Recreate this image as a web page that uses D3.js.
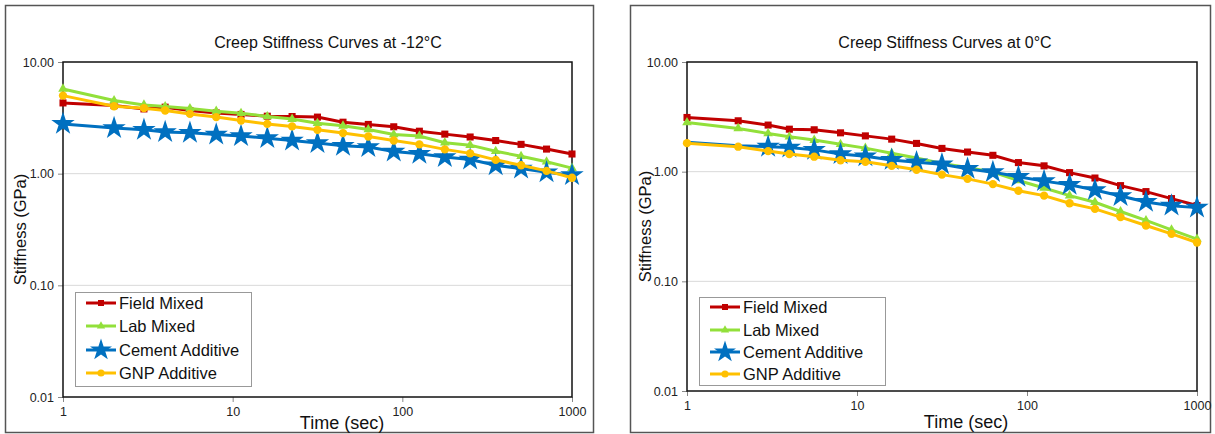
<!DOCTYPE html>
<html>
<head>
<meta charset="utf-8">
<script src="https://cdn.jsdelivr.net/npm/d3@7"></script>
<style>
	body { margin: 0; background: #fff; }
	svg { font-family: "Liberation Sans", Arial, sans-serif; }
</style>
</head>
<body>
<svg id="chart" width="1215" height="434"></svg>
<script>
// time steps (sec)
const times = [1, 2, 3, 4, 5.6, 8, 11.2, 16, 22.4, 31.6, 44.7, 63, 89, 126, 178, 251, 355, 501, 708, 1000];
const seriesNames = ["Field Mixed", "Lab Mixed", "Cement Additive", "GNP Additive"];
const yTickValues = [0.01, 0.1, 1, 10];
const xTickValues = [1, 10, 100, 1000];

// -12°C stiffness (GPa)
const fieldMixedM12 = [4.30, 4.07, 3.80, 3.94, 3.68, 3.50, 3.39, 3.27, 3.25, 3.21, 2.89, 2.76, 2.63, 2.40, 2.26, 2.13, 1.98, 1.83, 1.66, 1.50];
const labMixedM12 = [5.74, 4.52, 4.13, 3.99, 3.83, 3.63, 3.48, 3.25, 3.08, 2.83, 2.68, 2.49, 2.24, 2.17, 1.89, 1.80, 1.59, 1.43, 1.28, 1.12];
const cementM12 = [2.79, 2.56, 2.47, 2.36, 2.32, 2.24, 2.17, 2.08, 1.98, 1.88, 1.78, 1.73, 1.58, 1.51, 1.41, 1.34, 1.19, 1.11, 1.03, 0.97];
const gnpM12 = [5.00, 4.02, 3.86, 3.68, 3.43, 3.21, 2.99, 2.79, 2.65, 2.47, 2.31, 2.15, 1.98, 1.83, 1.65, 1.52, 1.33, 1.19, 1.06, 0.92];

// 0°C stiffness (GPa)
const fieldMixed0 = [3.12, 2.91, 2.66, 2.44, 2.41, 2.26, 2.12, 1.98, 1.81, 1.63, 1.51, 1.41, 1.21, 1.13, 0.98, 0.875, 0.746, 0.658, 0.568, 0.491];
const labMixed0 = [2.81, 2.48, 2.23, 2.08, 1.94, 1.78, 1.64, 1.47, 1.33, 1.19, 1.09, 0.99, 0.83, 0.71, 0.605, 0.526, 0.433, 0.359, 0.295, 0.243];
const cement0 = [1.85, 1.72, 1.69, 1.66, 1.58, 1.45, 1.38, 1.28, 1.22, 1.17, 1.06, 0.99, 0.90, 0.82, 0.76, 0.68, 0.60, 0.53, 0.49, 0.47];
const gnp0 = [1.82, 1.69, 1.54, 1.45, 1.37, 1.27, 1.23, 1.13, 1.04, 0.94, 0.86, 0.77, 0.67, 0.605, 0.515, 0.458, 0.385, 0.323, 0.271, 0.226];

const colors = ["#C00000", "#92E03A", "#0070C0", "#FFC000"];
const symbols = [d3.symbolSquare, d3.symbolTriangle, d3.symbolStar, d3.symbolCircle];
const symSizes = [50, 40, 170, 55];
const legSizes = [36, 30, 150, 40];

const panels = [
	{
		title: "Creep Stiffness Curves at -12°C",
		values: [fieldMixedM12, labMixedM12, cementM12, gnpM12],
		frame: { x: 5.5, y: 5.5, w: 588, h: 427 },
		plot: { left: 63, right: 572, top: 62, bottom: 397 },
		titleY: 48, titleX: 328, xLabY: 416, xTitleX: 342, xTitleY: 429, yTitleX: 26,
		skipMarkers: [[], [], [], []],
		legend: { x: 75, y: 292, w: 176, h: 94, rows: [303, 326, 350, 373] }
	},
	{
		title: "Creep Stiffness Curves at 0°C",
		values: [fieldMixed0, labMixed0, cement0, gnp0],
		frame: { x: 630.5, y: 5.5, w: 580, h: 427 },
		plot: { left: 687, right: 1197, top: 62, bottom: 391 },
		titleY: 48, titleX: 945, xLabY: 410, xTitleX: 966, xTitleY: 428, yTitleX: 651,
		// first two star markers are not shown in the 0°C chart
		skipMarkers: [[], [], [0, 1], []],
		legend: { x: 699, y: 297, w: 186, h: 88, rows: [307, 330, 352, 374] }
	}
];

const svg = d3.select("#chart");

function drawPanel(p) {
	const g = svg.append("g");
	const { left, right, top, bottom } = p.plot;

	g.append("rect")
		.attr("x", p.frame.x).attr("y", p.frame.y)
		.attr("width", p.frame.w).attr("height", p.frame.h)
		.attr("fill", "#fff").attr("stroke", "#555").attr("stroke-width", 1.5);

	const xScale = d3.scaleLog().domain([1, 1000]).range([left, right]);
	const yScale = d3.scaleLog().domain([0.01, 10]).range([bottom, top]);

	// grid lines
	g.append("g")
		.selectAll("line")
		.data(yTickValues.slice(1, 3))
		.join("line")
		.attr("x1", left).attr("x2", right)
		.attr("y1", (d) => yScale(d)).attr("y2", (d) => yScale(d))
		.attr("stroke", "#d9d9d9").attr("stroke-width", 1);

	// y axis
	const yAxis = d3.axisLeft(yScale).tickValues(yTickValues)
		.tickFormat(d3.format(".2f")).tickSize(5).tickPadding(4);
	const yg = g.append("g").attr("transform", `translate(${left},0)`).call(yAxis);
	yg.select(".domain").remove();
	yg.selectAll(".tick line").attr("stroke", "#888");
	yg.selectAll(".tick text").attr("font-size", 12.5).attr("fill", "#222")
		.attr("font-family", "Liberation Sans, Arial, sans-serif");

	// x axis
	const xAxis = d3.axisBottom(xScale).tickValues(xTickValues)
		.tickFormat(d3.format("d")).tickSize(5).tickPadding(4);
	const xg = g.append("g").attr("transform", `translate(0,${bottom})`).call(xAxis);
	xg.select(".domain").remove();
	xg.selectAll(".tick line").attr("stroke", "#888");
	xg.selectAll(".tick text").attr("font-size", 12.5).attr("fill", "#222")
		.attr("font-family", "Liberation Sans, Arial, sans-serif")
		.attr("y", null).attr("dy", null)
		.attr("transform", `translate(0,${p.xLabY - bottom})`);

	// plot border
	g.append("rect")
		.attr("x", left).attr("y", top)
		.attr("width", right - left).attr("height", bottom - top)
		.attr("fill", "none").attr("stroke", "#111").attr("stroke-width", 1.5);

	// titles
	g.append("text")
		.attr("x", p.titleX).attr("y", p.titleY)
		.attr("text-anchor", "middle").attr("font-size", 16).attr("fill", "#111")
		.text(p.title);
	g.append("text")
		.attr("x", p.xTitleX).attr("y", p.xTitleY)
		.attr("text-anchor", "middle").attr("font-size", 18).attr("fill", "#111")
		.text("Time (sec)");
	g.append("text")
		.attr("transform", `translate(${p.yTitleX},${(top + bottom) / 2}) rotate(-90)`)
		.attr("text-anchor", "middle").attr("font-size", 16.5).attr("fill", "#111")
		.text("Stiffness (GPa)");

	const line = d3.line()
		.x((d) => xScale(d[0]))
		.y((d) => yScale(d[1]));

	p.values.forEach((vals, i) => {
		const pts = times.map((t, j) => [t, vals[j]]);
		const sg = g.append("g");
		sg.append("path")
			.datum(pts)
			.attr("d", line)
			.attr("fill", "none").attr("stroke", colors[i]).attr("stroke-width", 3);
		sg.selectAll("path.marker")
			.data(pts.filter((d, j) => !p.skipMarkers[i].includes(j)))
			.join("path")
			.attr("class", "marker")
			.attr("transform", (d) => `translate(${xScale(d[0])},${yScale(d[1])})`)
			.attr("d", d3.symbol(symbols[i], symSizes[i]))
			.attr("fill", colors[i]);
	});

	// legend
	const L = p.legend;
	const lg = g.append("g");
	lg.append("rect")
		.attr("x", L.x + 0.5).attr("y", L.y + 0.5)
		.attr("width", L.w).attr("height", L.h)
		.attr("fill", "#fff").attr("stroke", "#999").attr("stroke-width", 1);
	seriesNames.forEach((name, i) => {
		const y = L.rows[i];
		lg.append("line")
			.attr("x1", L.x + 11).attr("x2", L.x + 41)
			.attr("y1", y).attr("y2", y)
			.attr("stroke", colors[i]).attr("stroke-width", 3);
		lg.append("path")
			.attr("transform", `translate(${L.x + 26},${y})`)
			.attr("d", d3.symbol(symbols[i], legSizes[i]))
			.attr("fill", colors[i]);
		lg.append("text")
			.attr("x", L.x + 44).attr("y", y + 6)
			.attr("font-size", 16.5).attr("fill", "#111")
			.text(name);
	});
}

panels.forEach(drawPanel);
</script>
</body>
</html>
